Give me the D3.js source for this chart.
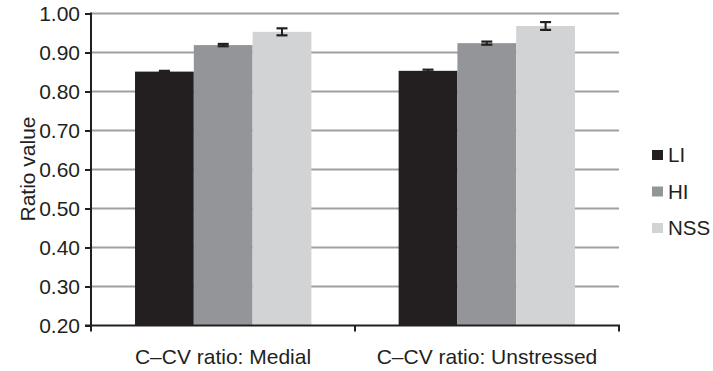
<!DOCTYPE html>
<html>
<head>
<meta charset="utf-8">
<script src="https://cdn.jsdelivr.net/npm/d3@7"></script>
<style>
  html, body { margin: 0; padding: 0; background: #fff; }
  svg { display: block; font-family: "Liberation Sans", Arial, Helvetica, sans-serif; }
</style>
</head>
<body>
<svg id="chart" width="713" height="371"></svg>
<script>
const categories = ["C\u2013CV ratio: Medial", "C\u2013CV ratio: Unstressed"];
const seriesNames = ["LI", "HI", "NSS"];
const LI = [0.851, 0.853];
const HI = [0.919, 0.924];
const NSS = [0.953, 0.968];
const LI_err = [0.002, 0.003];
const HI_err = [0.003, 0.004];
const NSS_err = [0.009, 0.010];
const yTicks = [0.20, 0.30, 0.40, 0.50, 0.60, 0.70, 0.80, 0.90, 1.00];
const colors = ["#231f20", "#939598", "#d1d3d4"];

(function () {
const values = [LI, HI, NSS];
const errors = [LI_err, HI_err, NSS_err];

const svg = d3.select("#chart");
const mLeft = 91, mRight = 619, mTop = 13.5, mBottom = 325.5;

const y = d3.scaleLinear().domain([0.2, 1.0]).range([mBottom, mTop]);
const xAxisBand = d3.scaleBand().domain(categories).range([mLeft, mRight]).padding(0);
const x0 = d3.scaleBand().domain(categories).range([mLeft, mRight]).paddingInner(0.331).paddingOuter(0.167);
const x1 = d3.scaleBand().domain(seriesNames).range([0, x0.bandwidth()]).padding(0);

// gridlines
svg.append("g").selectAll("line").data(yTicks.filter(d => d > 0.2)).join("line")
  .attr("x1", mLeft).attr("x2", mRight)
  .attr("y1", d => y(d)).attr("y2", d => y(d))
  .attr("stroke", "#a0a0a0").attr("stroke-width", 2);

// bars
const groups = svg.append("g").selectAll("g").data(categories).join("g")
  .attr("transform", c => `translate(${x0(c)},0)`);
groups.each(function(c, ci) {
  const g = d3.select(this);
  seriesNames.forEach((s, si) => {
    const v = values[si][ci];
    g.append("rect")
      .attr("x", x1(s)).attr("width", x1.bandwidth())
      .attr("y", y(v)).attr("height", y(0.2) - y(v))
      .attr("fill", colors[si]);
  });
  seriesNames.forEach((s, si) => {
    const v = values[si][ci], e = errors[si][ci];
    const cx = x1(s) + x1.bandwidth() / 2;
    g.append("line").attr("x1", cx).attr("x2", cx)
      .attr("y1", y(v + e)).attr("y2", y(v - e))
      .attr("stroke", "#231f20").attr("stroke-width", 2);
    [v + e, v - e].forEach(t => {
      g.append("line").attr("x1", cx - 5.5).attr("x2", cx + 5.5)
        .attr("y1", y(t)).attr("y2", y(t))
        .attr("stroke", "#231f20").attr("stroke-width", 2.2);
    });
  });
});

// y axis
const yAxis = svg.append("g").attr("transform", `translate(${mLeft},0)`)
  .call(d3.axisLeft(y).tickValues(yTicks).tickFormat(d3.format(".2f")).tickSize(6).tickPadding(5));
yAxis.select(".domain").attr("stroke", "#231f20").attr("stroke-width", 2).attr("d", `M0,${mTop - 1}V${mBottom + 1}`);
yAxis.selectAll(".tick line").attr("stroke", "#231f20").attr("stroke-width", 2);
yAxis.selectAll(".tick text").attr("fill", "#231f20").style("font-size", "21px");

// x axis
const xg = svg.append("g");
xg.append("line").attr("x1", mLeft - 6).attr("x2", mRight + 1)
  .attr("y1", mBottom).attr("y2", mBottom)
  .attr("stroke", "#231f20").attr("stroke-width", 2);
const boundaries = categories.map(c => xAxisBand(c)).concat([xAxisBand(categories[categories.length - 1]) + xAxisBand.bandwidth()]);
xg.selectAll("line.tk").data(boundaries).join("line").attr("class", "tk")
  .attr("x1", d => d).attr("x2", d => d)
  .attr("y1", mBottom).attr("y2", mBottom + 6)
  .attr("stroke", "#231f20").attr("stroke-width", 2);
xg.selectAll("text").data(categories).join("text")
  .attr("x", c => xAxisBand(c) + xAxisBand.bandwidth() / 2)
  .attr("y", mBottom + 38)
  .attr("text-anchor", "middle")
  .attr("fill", "#231f20")
  .style("font-size", "21px")
  .text(c => c);

// y label
svg.append("text")
  .attr("transform", `translate(35,169) rotate(-90)`)
  .attr("text-anchor", "middle")
  .attr("fill", "#231f20")
  .style("font-size", "21px")
  .text("Ratio value");

// legend
const legend = svg.append("g").selectAll("g").data(seriesNames).join("g")
  .attr("transform", (d, i) => `translate(652,${150 + i * 36.5})`);
legend.append("rect").attr("width", 11).attr("height", 10)
  .attr("fill", (d, i) => colors[i]);
legend.append("text").attr("x", 16).attr("y", 12)
  .attr("fill", "#231f20").style("font-size", "20.5px").text(d => d);
})();
</script>
</body>
</html>
